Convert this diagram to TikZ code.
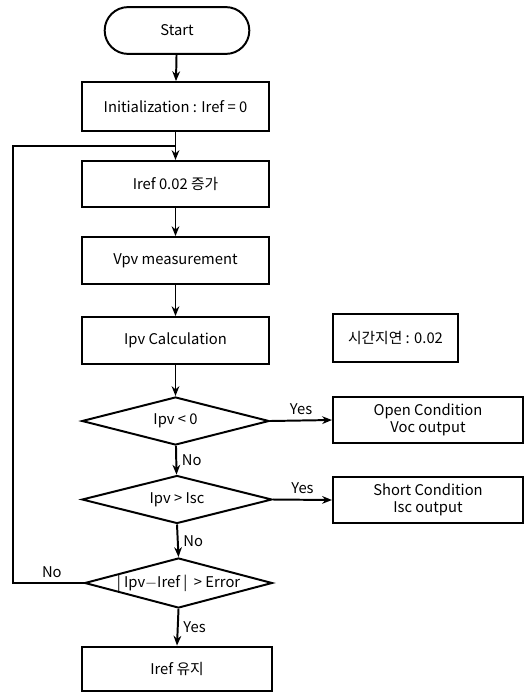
\documentclass[tikz,border=0pt]{standalone}
\usepackage{fontspec}
\setmainfont{Noto Sans CJK KR}
\usetikzlibrary{shapes.geometric, shapes.misc, arrows.meta}

\begin{document}
\begin{tikzpicture}[x=0.025cm, y=-0.025cm, line width=1.4pt, >={Stealth[length=7pt,width=5.5pt]},
    font=\fontsize{10.5}{12.5}\selectfont,
    proc/.style={draw, rectangle, minimum width=4.68cm, minimum height=1.17cm, align=center},
    term/.style={draw, rounded rectangle, minimum width=3.85cm, minimum height=1.17cm},
    cond/.style={draw, diamond, aspect=3.9, inner sep=0pt, minimum width=4.68cm, minimum height=1.2cm}]
    \useasboundingbox (0,0) rectangle (530,693);
    % main column
    \node[term] (start) at (177,30.5) {Start};
    \node[proc, minimum height=1.22cm] (init) at (175.5,106.5) {Initialization : Iref = 0};
    \node[proc, minimum height=1.15cm] (inc) at (175.5,184) {Iref 0.02 증가};
    \node[proc] (meas) at (175.5,260.5) {Vpv measurement};
    \node[proc] (calc) at (175.5,340.5) {Ipv Calculation};
    \node[cond] (d1) at (175.5,421) {Ipv < 0};
    \node[cond, minimum width=4.75cm] (d2) at (177,499.5) {Ipv > Isc};
    \node[cond, minimum width=4.58cm, minimum height=1.25cm] (d3) at (178.5,583) {| Ipv$-$Iref |\ \ > Error};
    \node[proc, minimum width=4.75cm, minimum height=1.12cm] (hold) at (177,669) {Iref 유지};
    % right column
    \node[proc, minimum width=3.12cm, minimum height=1.2cm] (delay) at (395.5,338) {시간지연 : 0.02};
    \node[proc, minimum width=4.75cm, minimum height=1.15cm] (open) at (428,420) {Open Condition\\Voc output};
    \node[proc, minimum width=4.75cm, minimum height=1.15cm] (short) at (428,500) {Short Condition\\Isc output};
    \coordinate (j) at (175.5,146);
    \coordinate (lb) at (13,583);
    \coordinate (lt) at (13,146);
    % connectors
    \draw[->] (start) -- (init);
    \draw[->] (init) -- (inc);
    \draw[->] (inc) -- (meas);
    \draw[->] (meas) -- (calc);
    \draw[->] (calc) -- (d1);
    \draw[->] (d1) -- node[right] {No} (d2);
    \draw[->] (d2.south) -- node[right] {No} (d3.north);
    \draw[->] (d3.south) -- node[right] {Yes} (hold.north);
    \draw[->] (d1.east) -- node[above] {Yes} (open.west);
    \draw[->] (d2.east) -- node[above] {Yes} (short.west);
    \draw (d3.west) -- node[above, pos=0.45] {No} (lb) -- (lt) -- (j);
\end{tikzpicture}
\end{document}
